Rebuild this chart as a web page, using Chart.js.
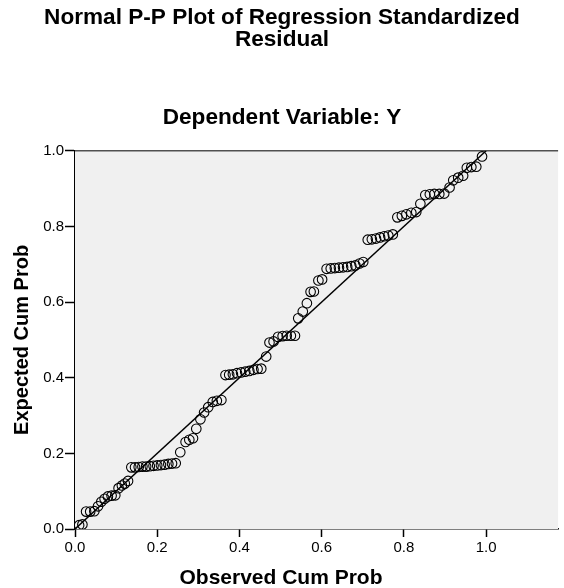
<!DOCTYPE html>
<html>
<head>
<meta charset="utf-8">
<script src="https://cdn.jsdelivr.net/npm/chart.js@4"></script>
<style>
html,body{margin:0;padding:0;background:#fff;}
#wrap{width:564px;height:588px;}
</style>
</head>
<body>
<div id="wrap"><canvas id="c" width="564" height="588"></canvas></div>
<script>
const titleLines = ['Normal P-P Plot of Regression Standardized', 'Residual'];
const subtitleText = 'Dependent Variable: Y';
const xTitle = 'Observed Cum Prob';
const yTitle = 'Expected Cum Prob';
const tickValues = [0.0, 0.2, 0.4, 0.6, 0.8, 1.0];

const observed = [
  0.010, 0.018, 0.027, 0.037, 0.047, 0.056, 0.064, 0.072, 0.080, 0.089,
  0.098, 0.106, 0.114, 0.121, 0.129, 0.137, 0.146, 0.155, 0.164, 0.173,
  0.182, 0.191, 0.200, 0.209, 0.218, 0.227, 0.236, 0.245, 0.256, 0.269,
  0.278, 0.287, 0.295, 0.305, 0.314, 0.324, 0.335, 0.345, 0.356, 0.366,
  0.375, 0.384, 0.394, 0.404, 0.414, 0.424, 0.434, 0.444, 0.453, 0.465,
  0.473, 0.483, 0.494, 0.505, 0.515, 0.525, 0.535, 0.543, 0.554, 0.564,
  0.573, 0.581, 0.592, 0.601, 0.612, 0.622, 0.632, 0.642, 0.652, 0.662,
  0.672, 0.682, 0.692, 0.701, 0.712, 0.722, 0.732, 0.742, 0.752, 0.762,
  0.773, 0.784, 0.795, 0.806, 0.818, 0.830, 0.840, 0.852, 0.863, 0.874,
  0.886, 0.898, 0.911, 0.920, 0.932, 0.944, 0.953, 0.964, 0.976, 0.990
];
const expected = [
  0.010, 0.012, 0.046, 0.046, 0.047, 0.060, 0.072, 0.080, 0.086, 0.088,
  0.089, 0.108, 0.115, 0.120, 0.127, 0.163, 0.163, 0.164, 0.165, 0.165,
  0.166, 0.167, 0.168, 0.169, 0.170, 0.172, 0.173, 0.174, 0.203, 0.230,
  0.236, 0.240, 0.265, 0.290, 0.308, 0.322, 0.336, 0.339, 0.341, 0.407,
  0.408, 0.409, 0.412, 0.414, 0.416, 0.418, 0.421, 0.423, 0.424, 0.456,
  0.493, 0.496, 0.508, 0.510, 0.511, 0.511, 0.511, 0.557, 0.575, 0.597,
  0.627, 0.628, 0.657, 0.660, 0.688, 0.689, 0.690, 0.691, 0.692, 0.693,
  0.695, 0.697, 0.702, 0.706, 0.765, 0.766, 0.768, 0.771, 0.774, 0.776,
  0.779, 0.824, 0.828, 0.832, 0.836, 0.838, 0.860, 0.883, 0.885, 0.886,
  0.886, 0.887, 0.903, 0.922, 0.929, 0.934, 0.955, 0.957, 0.958, 0.985
];
const refLineX = [0, 1];
const refLineY = [0, 1];

const FONT = "Arial, 'Liberation Sans', sans-serif";

const bgPlugin = {
  id: 'plotBg',
  beforeDatasetsDraw(chart) {
    const {ctx, chartArea: a} = chart;
    ctx.save();
    ctx.fillStyle = '#F0F0F0';
    ctx.fillRect(a.left, a.top, a.right - a.left, a.bottom - a.top);
    ctx.strokeStyle = '#505050';
    ctx.lineWidth = 1.5;
    ctx.beginPath();
    ctx.moveTo(a.left, a.top);
    ctx.lineTo(a.right, a.top);
    ctx.stroke();
    ctx.restore();
  }
};

const xTitlePlugin = {
  id: 'xTitle',
  afterDraw(chart) {
    const ctx = chart.ctx;
    ctx.save();
    ctx.fillStyle = '#000';
    ctx.font = "bold 21px " + FONT;
    ctx.textAlign = 'center';
    ctx.textBaseline = 'middle';
    ctx.fillText(xTitle, 281, 578);
    ctx.restore();
  }
};

const pts = observed.map((x, i) => ({x: x, y: expected[i]}));
const line = refLineX.map((x, i) => ({x: x, y: refLineY[i]}));

new Chart(document.getElementById('c'), {
  type: 'scatter',
  data: {
    datasets: [
      {
        data: line,
        showLine: true,
        borderColor: '#000',
        borderWidth: 1.5,
        pointRadius: 0,
        order: 2
      },
      {
        data: pts,
        pointStyle: 'circle',
        pointRadius: 4.8,
        pointBorderWidth: 1.1,
        pointBorderColor: '#000',
        pointBackgroundColor: 'rgba(0,0,0,0)',
        order: 1
      }
    ]
  },
  options: {
    responsive: false,
    animation: false,
    devicePixelRatio: 1,
    layout: {padding: {left: 0, right: 0, top: 0, bottom: 0}},
    plugins: {
      legend: {display: false},
      tooltip: {enabled: false},
      title: {
        display: true,
        text: titleLines,
        color: '#000',
        font: {family: FONT, size: 22.6, weight: 'bold', lineHeight: 1.0},
        padding: {top: 6, bottom: 0}
      },
      subtitle: {
        display: true,
        text: subtitleText,
        color: '#000',
        font: {family: FONT, size: 22.6, weight: 'bold', lineHeight: 1.0},
        padding: {top: 55, bottom: 22}
      }
    },
    scales: {
      x: {
        type: 'linear',
        min: 0,
        max: 1.175,
        afterFit(s) { s.height = 59; },
        afterBuildTicks(s) { s.ticks = tickValues.map(v => ({value: v})); },
        ticks: {
          color: '#000',
          font: {family: FONT, size: 15},
          padding: 2,
          maxRotation: 0,
          callback: v => Number(v).toFixed(1)
        },
        grid: {drawOnChartArea: false, drawTicks: true, tickLength: 8, tickColor: '#000', tickWidth: 1.5},
        border: {display: true, color: '#000', width: 1.5},
        title: {display: false, text: xTitle}
      },
      y: {
        type: 'linear',
        min: 0,
        max: 1.0,
        afterFit(s) { s.width = 75; },
        afterBuildTicks(s) { s.ticks = tickValues.map(v => ({value: v})); },
        ticks: {
          color: '#000',
          font: {family: FONT, size: 15},
          padding: 1,
          callback: v => Number(v).toFixed(1)
        },
        grid: {drawOnChartArea: false, drawTicks: true, tickLength: 10, tickColor: '#000', tickWidth: 1.5},
        border: {display: true, color: '#000', width: 1.5},
        title: {
          display: true,
          text: yTitle,
          color: '#000',
          font: {family: FONT, size: 20, weight: 'bold', lineHeight: 1.0},
          padding: {top: 12, bottom: 0}
        }
      }
    }
  },
  plugins: [bgPlugin, xTitlePlugin]
});
</script>
</body>
</html>
